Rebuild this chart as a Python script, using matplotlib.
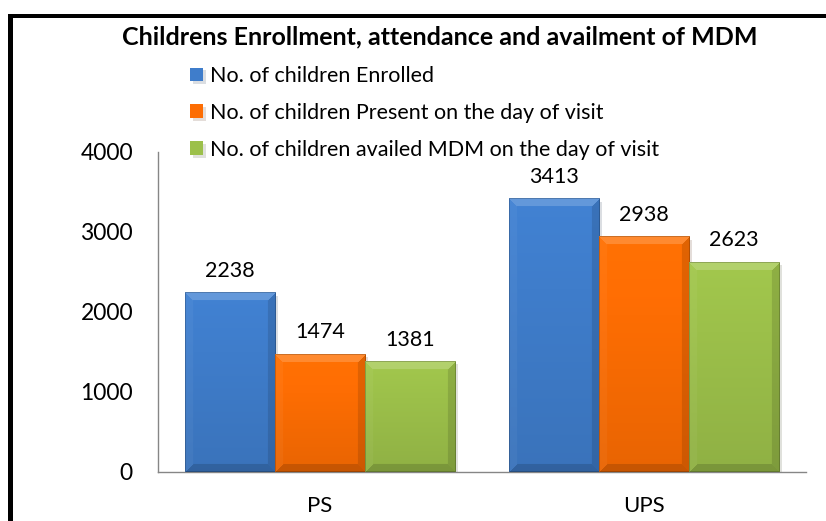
import numpy as np
import matplotlib
matplotlib.use('Agg')
import matplotlib.pyplot as plt
from matplotlib.colors import to_rgb
from matplotlib.patches import Rectangle
import matplotlib.patheffects as pe

plt.rcParams['font.family'] = ['Lato', 'DejaVu Sans']

# data
categories = ['PS', 'UPS']
enrolled = [2238, 3413]
present = [1474, 2938]
availed = [1381, 2623]
series_names = ['No. of children Enrolled',
                'No. of children Present on the day of visit',
                'No. of children availed MDM on the day of visit']
colors = ['#3f7dcb', '#fd6d03', '#9cc04a']
title = 'Childrens Enrollment, attendance and availment of MDM'


def bevel_bar(ax, rect, color, bev=8):
    # paint an excel-like bevel over the bar patch
    x0, y0 = rect.get_x(), rect.get_y()
    w, h = rect.get_width(), rect.get_height()
    p0 = ax.transData.transform((x0, y0))
    p1 = ax.transData.transform((x0 + w, y0 + h))
    wpx = max(int(round(abs(p1[0] - p0[0]))), 2)
    hpx = max(int(round(abs(p1[1] - p0[1]))), 2)
    yy, xx = np.mgrid[0:hpx, 0:wpx]
    dt, db = yy, hpx - 1 - yy
    dl, dr = xx, wpx - 1 - xx
    d = np.stack([dt, dl, dr, db])
    facet = np.argmin(d, axis=0)
    m = d.min(axis=0)
    base = np.array(to_rgb(color))
    t = yy / (hpx - 1)
    img = base[None, None, :] * (1.04 - 0.12 * t)[..., None]
    img = np.clip(img, 0, 1)
    shades = [lambda c: c + (1 - c) * 0.18,
              lambda c: c + (1 - c) * 0.04,
              lambda c: c * 0.88,
              lambda c: c * 0.85]
    for k, fn in enumerate(shades):
        sel = (m < bev) & (facet == k)
        img[sel] = fn(img[sel])
    edge = m == 0
    img[edge] = img[edge] * 0.8
    ax.imshow(np.clip(img, 0, 1), extent=(x0, x0 + w, y0, y0 + h), origin='upper',
              aspect='auto', interpolation='bilinear', zorder=3)


fig = plt.figure(figsize=(8.26, 5.21), dpi=100)
ax = fig.add_axes([158 / 826, 1 - 472 / 521, 648 / 826, 320 / 521])

x = np.arange(len(categories))
width = 0.278
all_series = [enrolled, present, availed]
containers = []
for i, (vals, col, name) in enumerate(zip(all_series, colors, series_names)):
    bars = ax.bar(x + (i - 1) * width, vals, width, color=col, label=name, zorder=2,
                  linewidth=0)
    for b in bars:
        b.set_path_effects([pe.SimplePatchShadow(offset=(2, -2), alpha=0.15),
                            pe.Normal()])
    containers.append(bars)

ax.set_xlim(-0.5, 1.5)
ax.set_ylim(0, 4000)
ax.set_yticks([0, 1000, 2000, 3000, 4000])
ax.set_xticks(x)
ax.set_xticklabels(categories)
ax.tick_params(axis='y', length=0, pad=18, labelsize=16.5)
ax.tick_params(axis='x', length=0, pad=17, labelsize=16)
for s in ['top', 'right']:
    ax.spines[s].set_visible(False)
for s in ['left', 'bottom']:
    ax.spines[s].set_color('#868686')
    ax.spines[s].set_linewidth(1)

for bars, col in zip(containers, colors):
    for b in bars:
        bevel_bar(ax, b, col)
        ax.annotate(f'{int(b.get_height())}', xy=(b.get_x() + b.get_width() / 2, b.get_height()),
                    xytext=(0, 11.5), textcoords='offset points', ha='center', va='baseline',
                    fontsize=15.5, color='#000000')

ax.set_xlim(-0.5, 1.5)
ax.set_ylim(0, 4000)

fig.text(440 / 826, 1 - 44 / 521, title, ha='center', va='baseline', fontsize=18,
         fontweight='bold')

fig.legend(handles=[c.patches[0] for c in containers], labels=series_names,
           loc='upper left', bbox_to_anchor=(190 / 826, 1 - 66 / 521), frameon=False,
           fontsize=15.5, handlelength=0.6, handleheight=0.6, handletextpad=0.35,
           labelspacing=0.78, borderpad=0, borderaxespad=0)

# outer frame (left and top only visible)
fig.add_artist(Rectangle((8 / 826, 0), 5 / 826, 1 - 14 / 521, transform=fig.transFigure,
                         color='black', lw=0))
fig.add_artist(Rectangle((8 / 826, 1 - 17.5 / 521), 1, 3.5 / 521, transform=fig.transFigure,
                         color='black', lw=0))

fig.savefig('out.png', dpi=100)
